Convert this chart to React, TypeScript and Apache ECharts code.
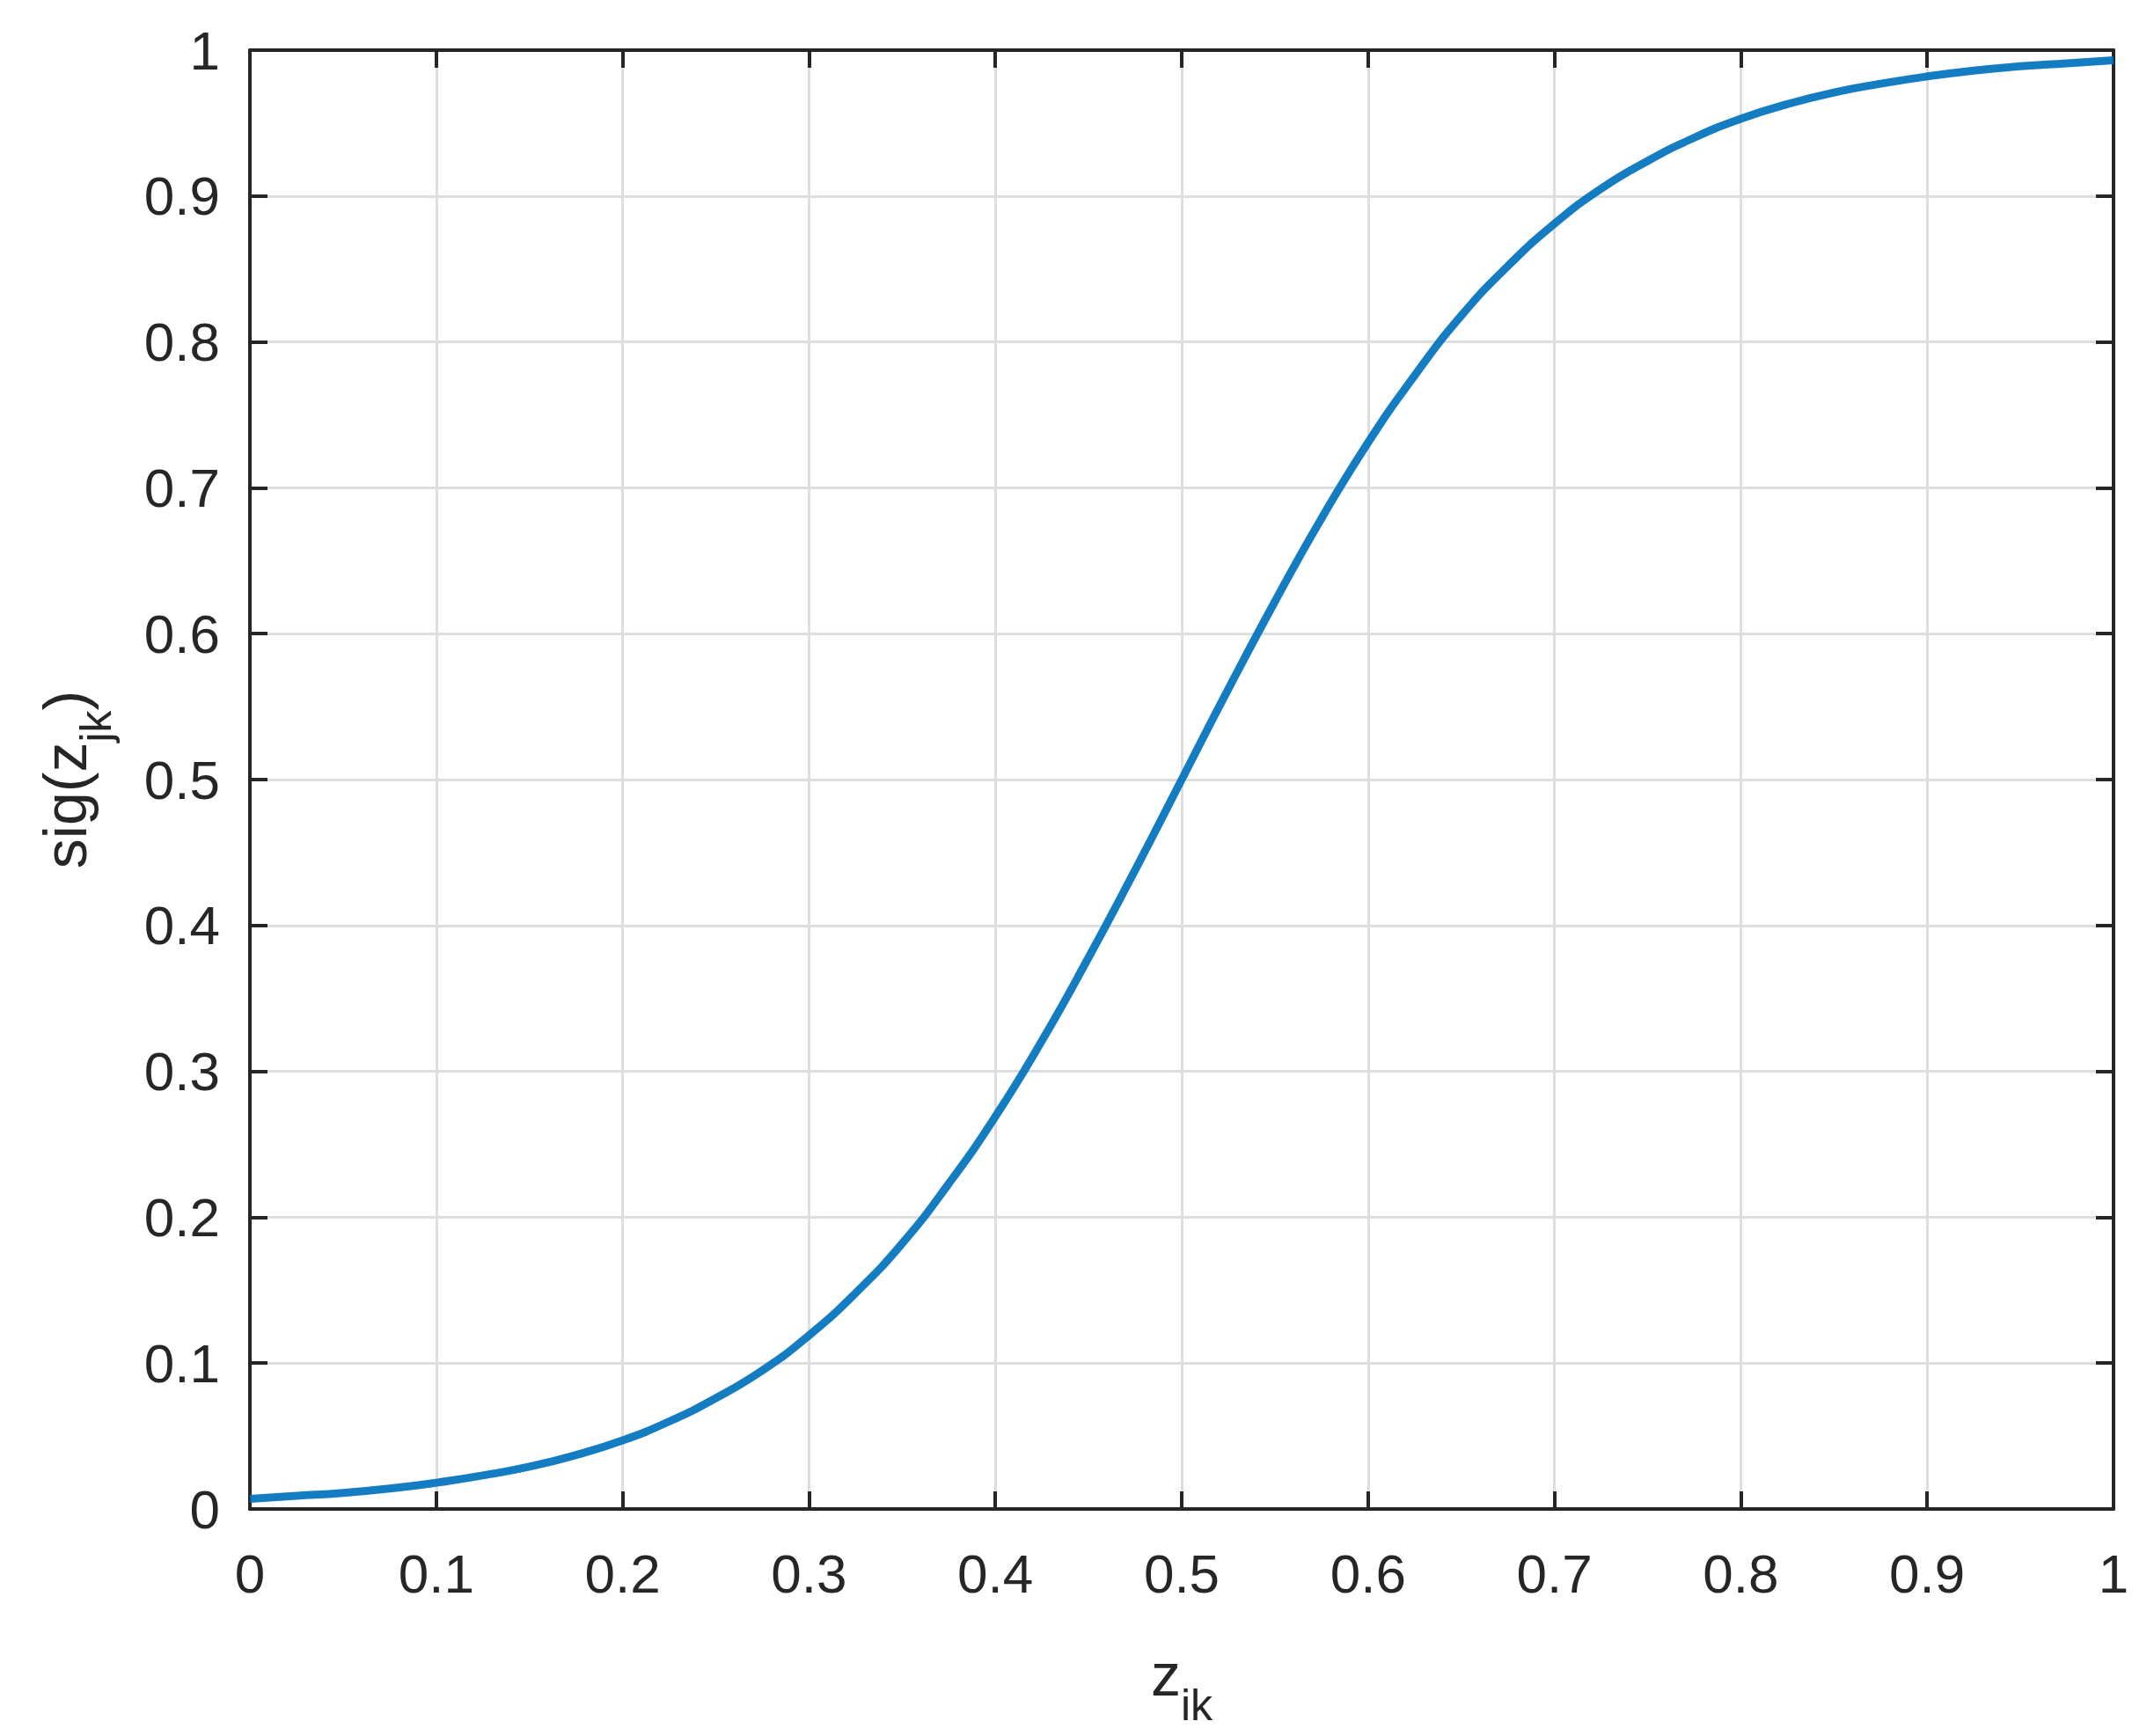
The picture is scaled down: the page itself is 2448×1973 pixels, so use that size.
import React, { useEffect, useRef } from "react";
import * as echarts from "echarts";

const xValues = [
  0, 0.025, 0.05, 0.075, 0.1, 0.125, 0.15, 0.175, 0.2, 0.225, 0.25, 0.275, 0.3, 0.325, 0.35, 0.375,
  0.4, 0.425, 0.45, 0.475, 0.5, 0.525, 0.55, 0.575, 0.6, 0.625, 0.65, 0.675, 0.7, 0.725, 0.75, 0.775,
  0.8, 0.825, 0.85, 0.875, 0.9, 0.925, 0.95, 0.975, 1,
];
const sigValues = [
  0.007, 0.009, 0.011, 0.014, 0.018, 0.023, 0.029, 0.037, 0.047, 0.06, 0.076, 0.095, 0.119, 0.148,
  0.182, 0.223, 0.269, 0.321, 0.378, 0.438, 0.5, 0.562, 0.622, 0.679, 0.731, 0.777, 0.818, 0.852,
  0.881, 0.905, 0.924, 0.94, 0.953, 0.963, 0.971, 0.977, 0.982, 0.986, 0.989, 0.991, 0.993,
];
const xTickLabels = ["0", "0.1", "0.2", "0.3", "0.4", "0.5", "0.6", "0.7", "0.8", "0.9", "1"];
const yTickLabels = ["0", "0.1", "0.2", "0.3", "0.4", "0.5", "0.6", "0.7", "0.8", "0.9", "1"];

const FONT = "'Liberation Sans', Arial, Helvetica, sans-serif";
const TXT = "#262626";

export default function App() {
  const ref = useRef<HTMLDivElement>(null);
  useEffect(() => {
    const chart = echarts.init(ref.current!, null, { renderer: "svg" });
    const tickLabel = (v: number, labels: string[]) => {
      const idx = Math.round(v * 10);
      return labels[idx] ?? "";
    };
    const baseAxis = {
      type: "value",
      min: 0,
      max: 1,
      interval: 0.1,
      axisLine: { show: true, onZero: false, lineStyle: { color: TXT, width: 4 } },
      axisTick: { show: true, inside: true, length: 20, lineStyle: { color: TXT, width: 4 } },
      splitLine: { show: false },
    };
    chart.setOption({
      animation: false,
      backgroundColor: "#ffffff",
      grid: { left: 284, right: 46, top: 57, bottom: 258, containLabel: false },
      xAxis: [
        {
          ...baseAxis,
          position: "bottom",
          splitLine: { show: true, lineStyle: { color: "#dedede", width: 3 } },
          axisLabel: {
            show: true,
            margin: 42,
            fontSize: 62,
            color: TXT,
            fontFamily: FONT,
            formatter: (v: number) => tickLabel(v, xTickLabels),
          },
          name: "{m|z}{s|ik}",
          nameLocation: "middle",
          nameGap: 128,
          nameTextStyle: {
            rich: {
              m: { fontSize: 68, color: TXT, fontFamily: FONT },
              s: { fontSize: 50, color: TXT, fontFamily: FONT, padding: [70, 0, 0, 0] },
            },
          },
        },
        {
          ...baseAxis,
          position: "top",
          axisLabel: { show: false },
        },
      ],
      yAxis: [
        {
          ...baseAxis,
          position: "left",
          splitLine: { show: true, lineStyle: { color: "#dedede", width: 3 } },
          axisLabel: {
            show: true,
            margin: 34,
            fontSize: 62,
            color: TXT,
            fontFamily: FONT,
            formatter: (v: number) => tickLabel(v, yTickLabels),
          },
          name: "{m|sig(z}{s|jk}{m|)}",
          nameLocation: "middle",
          nameGap: 150,
          nameTextStyle: {
            rich: {
              m: { fontSize: 68, color: TXT, fontFamily: FONT },
              s: { fontSize: 50, color: TXT, fontFamily: FONT, padding: [70, 0, 0, 0] },
            },
          },
        },
        {
          ...baseAxis,
          position: "right",
          axisLabel: { show: false },
        },
      ],
      series: [
        {
          type: "line",
          xAxisIndex: 0,
          yAxisIndex: 0,
          data: xValues.map((x, i) => [x, sigValues[i]]),
          smooth: true,
          showSymbol: false,
          symbol: "none",
          clip: false,
          lineStyle: { color: "#0072BD", width: 9, opacity: 0.92 },
          z: 5,
        },
      ],
    });
    return () => chart.dispose();
  }, []);
  return (
    <div
      ref={ref}
      style={{ position: "absolute", left: 0, top: 0, width: 2448, height: 1973, background: "#fff" }}
    />
  );
}
